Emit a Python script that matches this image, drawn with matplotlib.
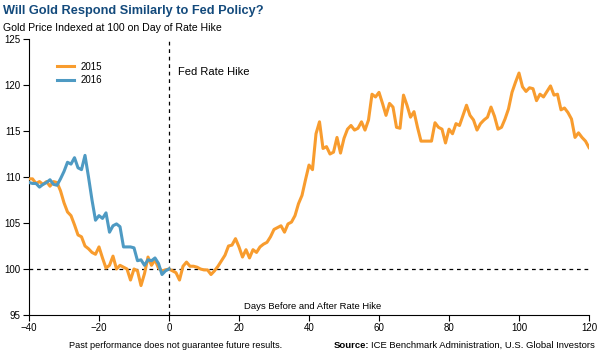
import numpy as np
import matplotlib.pyplot as plt

days_2015 = np.arange(-40, 121)
gold_2015 = [
    109.8, 109.8, 109.3, 109.5, 109.2, 109.5, 109.0, 109.5, 109.4, 108.5,
    107.2, 106.2, 105.8, 104.8, 103.7, 103.5, 102.5, 102.2, 101.8, 101.6,
    102.4, 101.2, 100.1, 100.4, 101.4, 100.0, 100.4, 100.2, 100.0, 98.8,
    100.0, 99.8, 98.2, 99.5, 101.3, 100.4, 101.0, 100.1, 99.8, 99.9,
    100.0, 99.8, 99.6, 98.8, 100.3, 100.75, 100.3, 100.3, 100.2, 100.0,
    99.9, 99.9, 99.4, 99.8, 100.3, 100.9, 101.5, 102.5, 102.6, 103.3,
    102.4, 101.3, 102.1, 101.2, 102.1, 101.8, 102.4, 102.7, 102.9, 103.5,
    104.3, 104.5, 104.7, 104.0, 104.9, 105.1, 105.8, 107.1, 108.0, 109.7,
    111.3, 110.8, 114.7, 116.0, 113.1, 113.3, 112.5, 112.7, 114.3, 112.6,
    114.2, 115.2, 115.6, 115.1, 115.3, 116.0, 115.1, 116.2, 119.0, 118.7,
    119.2, 118.0, 116.7, 118.0, 117.6, 115.4, 115.3, 118.9, 117.8, 116.5,
    117.1, 115.4, 113.9, 113.9, 113.9, 113.9, 115.9, 115.4, 115.2, 113.7,
    115.2, 114.7, 115.8, 115.6, 116.7, 117.8, 116.7, 116.2, 115.1, 115.8,
    116.2, 116.5, 117.6, 116.6, 115.2, 115.4, 116.3, 117.4, 119.2, 120.3,
    121.3, 119.8, 119.3, 119.7, 119.6, 118.3, 119.0, 118.7, 119.3, 119.9,
    118.9, 119.0, 117.3, 117.5, 117.0, 116.3, 114.3, 114.8, 114.3, 113.9,
    113.2,
]

days_2016 = np.arange(-40, 1)
gold_2016 = [
    109.4, 109.3, 109.3, 108.9, 109.2, 109.4, 109.7, 109.2, 109.1, 109.8,
    110.6, 111.6, 111.4, 112.1, 111.0, 110.8, 112.35, 110.0, 107.5, 105.3,
    105.8, 105.5, 106.1, 104.0, 104.7, 104.9, 104.6, 102.4, 102.4, 102.4,
    102.3, 100.9, 101.0, 100.4, 101.0, 100.9, 101.2, 100.6, 99.4, 99.8,
    100.0,
]

x_ticks = [-40, -20, 0, 20, 40, 60, 80, 100, 120]
y_ticks = [95, 100, 105, 110, 115, 120, 125]

orange = "#F89C2E"
blue = "#4E9AC3"
navy = "#134A7C"

plt.rcParams['font.family'] = ['Liberation Sans', 'DejaVu Sans']

fig = plt.figure(figsize=(6, 3.53), dpi=100)
ax = fig.add_axes([29/600, 1-315/353, 560/600, 276/353])

ax.plot(days_2015, gold_2015, color=orange, lw=2.2, label="2015", zorder=3)
ax.plot(days_2016, gold_2016, color=blue, lw=2.2, label="2016", zorder=4)

ax.axvline(0, color="black", lw=0.9, ls=(0, (3, 3)), zorder=2)
ax.axhline(100, color="black", lw=0.9, ls=(0, (3, 3)), zorder=2)

ax.set_xlim(-40, 120)
ax.set_ylim(95, 125)
ax.set_xticks(x_ticks)
ax.set_yticks(y_ticks)
ax.tick_params(labelsize=7, length=4, width=0.8, color="black", pad=2)
for s in ["top", "right"]:
    ax.spines[s].set_visible(False)
for s in ["left", "bottom"]:
    ax.spines[s].set_linewidth(0.8)

ax.text(2.6, 121.4, "Fed Rate Hike", fontsize=8, va="center", ha="left")
ax.text(41, 95.9, "Days Before and After Rate Hike", fontsize=6.8, ha="center", va="center")

leg = ax.legend(loc="upper left", bbox_to_anchor=(0.035, 0.95), frameon=False,
                fontsize=7, handlelength=1.7, handletextpad=0.7, labelspacing=0.4)

fig.text(0.005, 0.985, "Will Gold Respond Similarly to Fed Policy?", fontsize=9.2,
         fontweight="bold", color=navy, va="top")
fig.text(0.005, 0.935, "Gold Price Indexed at 100 on Day of Rate Hike", fontsize=7.6,
         va="top")
fig.text(0.115, 0.008, "Past performance does not guarantee future results.", fontsize=6.6,
         va="bottom")
src = fig.text(0.992, 0.008, "ICE Benchmark Administration, U.S. Global Investors",
               fontsize=6.8, va="bottom", ha="right")

# put the bold "Source:" right before the source text
fig.canvas.draw()
bb = src.get_window_extent().transformed(fig.transFigure.inverted())
fig.text(bb.x0 - 0.004, 0.008, "Source:", fontsize=6.8, fontweight="bold",
         va="bottom", ha="right")

fig.savefig("out.png", dpi=100)
